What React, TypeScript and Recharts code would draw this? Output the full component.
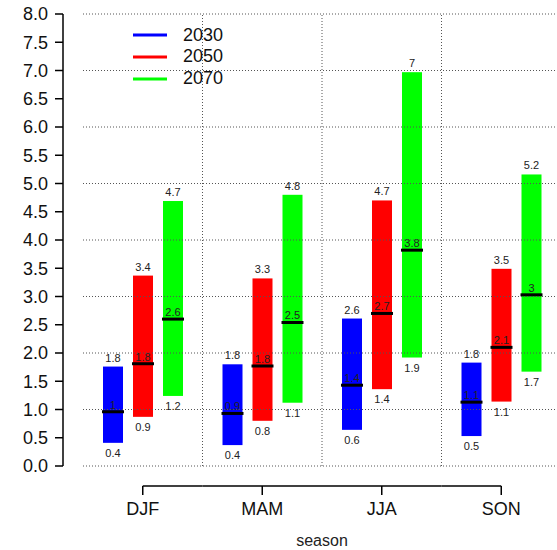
import React from 'react';
import { BarChart, Bar, XAxis, YAxis, ReferenceLine, Legend } from 'recharts';

const seasons = ['DJF', 'MAM', 'JJA', 'SON'];
const years = ['2030', '2050', '2070'];
const colors = ['#0000ff', '#ff0000', '#00ff00'];

// lower end, median and upper end of each box, one value per season
const low2030 = [0.41, 0.37, 0.64, 0.53];
const med2030 = [0.96, 0.93, 1.43, 1.13];
const high2030 = [1.76, 1.8, 2.61, 1.83];

const low2050 = [0.87, 0.8, 1.36, 1.14];
const med2050 = [1.81, 1.77, 2.7, 2.1];
const high2050 = [3.37, 3.32, 4.7, 3.49];

const low2070 = [1.24, 1.12, 1.92, 1.67];
const med2070 = [2.6, 2.54, 3.82, 3.03];
const high2070 = [4.69, 4.8, 6.97, 5.16];

const yTicks = [0, 0.5, 1, 1.5, 2, 2.5, 3, 3.5, 4, 4.5, 5, 5.5, 6, 6.5, 7, 7.5, 8];
const gridValues = [0, 1, 2, 3, 4, 5, 6, 7, 8];

const lows = [low2030, low2050, low2070];
const meds = [med2030, med2050, med2070];
const highs = [high2030, high2050, high2070];

const data = seasons.map((season, i) => {
  const row: any = { season };
  years.forEach((yr, k) => {
    row['r' + yr] = [lows[k][i], highs[k][i]];
    row['m' + yr] = meds[k][i];
  });
  return row;
});

const fmt = (v: number) => String(Math.round(v * 10) / 10);

const FONT = '"Liberation Sans", Arial, Helvetica, sans-serif';
const GRID = { stroke: '#555', strokeDasharray: '1 2' };

// box + median bar + the three value labels
const makeBox = (yr: string) => (props: any) => {
  const { x, y, width, height, fill, payload } = props;
  const top = Math.min(y, y + height);
  const h = Math.abs(height);
  const [lo, hi] = payload['r' + yr];
  const med = payload['m' + yr];
  const ym = top + (h * (hi - med)) / (hi - lo);
  const cx = x + width / 2;
  return (
    <g>
      <rect x={x} y={top} width={width} height={h} fill={fill} />
      <line x1={x - 1} x2={x + width + 1} y1={ym} y2={ym} stroke="#000" strokeWidth={3} />
      <text x={cx} y={top - 5} textAnchor="middle" fontSize={11} fill="#222">{fmt(hi)}</text>
      <text x={cx} y={top + h + 14} textAnchor="middle" fontSize={11} fill="#222">{fmt(lo)}</text>
      <text x={cx} y={ym - 3} textAnchor="middle" fontSize={11} fill="#222">{fmt(med)}</text>
    </g>
  );
};

// R style x axis: line only between first and last tick, sitting below the plot
const SeasonTick = (props: any) => {
  const { x, y, payload, index, visibleTicksCount, width } = props;
  const half = payload && payload.offset ? payload.offset : width / visibleTicksCount / 2;
  const last = visibleTicksCount - 1;
  const ly = y + 18;
  return (
    <g>
      <line x1={index === 0 ? x : x - half} x2={index === last ? x : x + half} y1={ly} y2={ly} stroke="#000" strokeWidth={1.5} />
      <line x1={x} x2={x} y1={ly} y2={ly + 9} stroke="#000" strokeWidth={1.5} />
      <text x={x} y={y + 47} textAnchor="middle" fontSize={18} fill="#111">{payload.value}</text>
    </g>
  );
};

const renderLegend = (props: any) => {
  const items = props.payload || [];
  return (
    <div style={{ fontSize: 18, color: '#111' }}>
      {items.map((e: any) => (
        <div key={e.value} style={{ display: 'flex', alignItems: 'center', height: 21.7 }}>
          <svg width={34} height={4}>
            <line x1={0} x2={34} y1={2} y2={2} stroke={e.color} strokeWidth={3} />
          </svg>
          <span style={{ marginLeft: 16, lineHeight: '21.7px' }}>{e.value}</span>
        </div>
      ))}
    </div>
  );
};

export default function App() {
  return (
    <div style={{ position: 'absolute', left: 0, top: 0, width: 557, height: 550, overflow: 'hidden', background: '#fff', fontFamily: FONT }}>
      <BarChart
        width={561}
        height={550}
        data={data}
        margin={{ top: 14, right: 0, bottom: 0, left: 0 }}
        barSize={20}
        barGap={10}
      >
        <XAxis
          xAxisId="x"
          dataKey="season"
          height={84}
          tickSize={0}
          axisLine={false}
          tickLine={false}
          interval={0}
          tick={<SeasonTick />}
          label={{ value: 'season', position: 'insideBottom', offset: 4, fontSize: 16, fill: '#222' }}
        />
        <YAxis yAxisId="gap" width={20} domain={[0, 8]} tick={false} axisLine={false} tickLine={false} />
        <YAxis
          yAxisId="v"
          width={63}
          domain={[0, 8]}
          ticks={yTicks}
          interval={0}
          tickSize={8}
          tickMargin={7}
          tickFormatter={(v: number) => v.toFixed(1)}
          axisLine={{ stroke: '#000', strokeWidth: 1.5 }}
          tickLine={{ stroke: '#000', strokeWidth: 1.5 }}
          tick={{ fontSize: 18, fill: '#111' }}
        />
        {gridValues.map((v) => (
          <ReferenceLine key={'h' + v} xAxisId="x" yAxisId="v" y={v} {...GRID} />
        ))}
        {/* dotted verticals sit on the boundaries between seasons */}
        {seasons.slice(1).map((s) => (
          <ReferenceLine key={'v' + s} xAxisId="x" yAxisId="v" x={s} position="start" {...GRID} />
        ))}
        <Legend
          layout="vertical"
          align="center"
          verticalAlign="middle"
          wrapperStyle={{ left: 133, top: 24.5, width: 'auto' }}
          content={renderLegend}
        />
        {years.map((yr, k) => (
          <Bar
            key={yr}
            xAxisId="x"
            yAxisId="v"
            dataKey={'r' + yr}
            name={yr}
            fill={colors[k]}
            shape={makeBox(yr)}
            isAnimationActive={false}
          />
        ))}
      </BarChart>
    </div>
  );
}
